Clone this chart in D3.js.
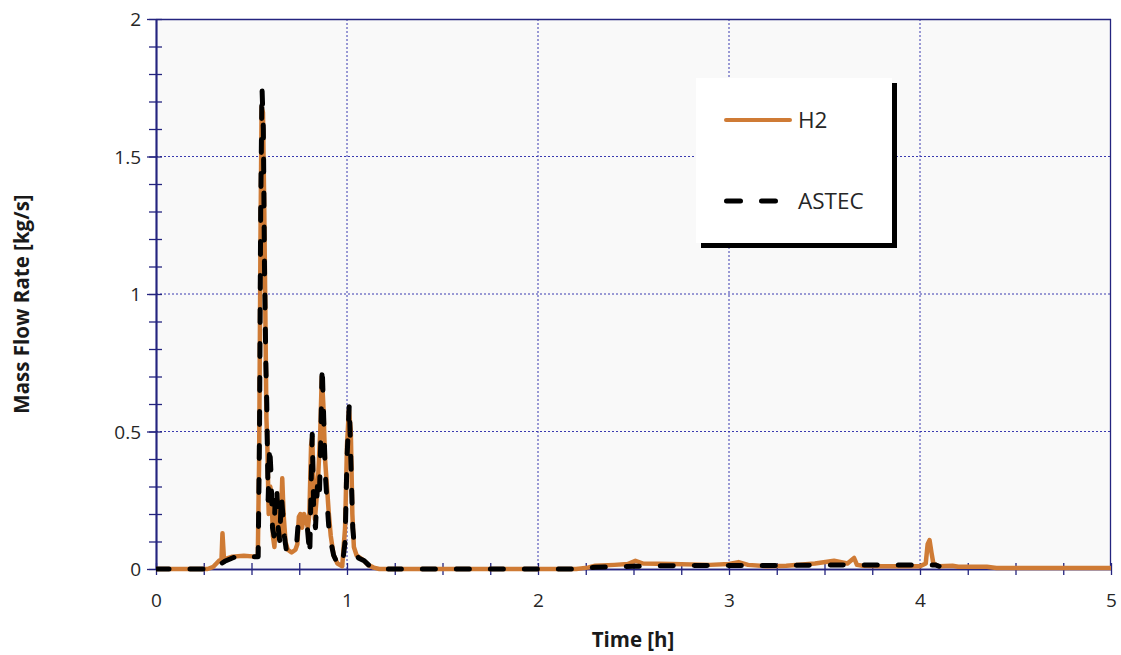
<!DOCTYPE html>
<html><head><meta charset="utf-8">
<script src="https://cdn.jsdelivr.net/npm/d3@7/dist/d3.min.js"></script>
<style>
html,body{margin:0;padding:0;background:#fff;}
svg{display:block;}
text{font-family:"Open Sans",Lato,sans-serif;}
</style></head>
<body>
<svg id="c" width="1121" height="655"></svg>
<script>
// ---- data (time [h], mass flow rate [kg/s]) ----
const h2Time = [0,0.27,0.30,0.33,0.343,0.348,0.356,0.40,0.46,0.52,0.533,0.54,0.547,0.553,0.56,0.567,0.573,0.578,0.583,0.59,0.598,0.605,0.612,0.62,0.628,0.636,0.645,0.652,0.661,0.668,0.678,0.69,0.71,0.73,0.74,0.748,0.756,0.765,0.775,0.785,0.795,0.803,0.812,0.818,0.825,0.832,0.84,0.85,0.86,0.868,0.876,0.885,0.895,0.905,0.915,0.93,0.95,0.975,0.99,1.0,1.01,1.02,1.028,1.036,1.05,1.07,1.09,1.11,1.14,1.17,2.2,2.26,2.3,2.4,2.47,2.51,2.55,2.7,2.9,3.0,3.05,3.1,3.2,3.3,3.45,3.55,3.62,3.655,3.67,3.7,3.8,4.0,4.03,4.04,4.05,4.06,4.07,4.1,4.17,4.2,4.35,4.4,5.0];
const h2Flow = [0,0,0.008,0.03,0.035,0.13,0.035,0.045,0.048,0.045,0.05,0.4,1.2,1.68,1.66,1.3,0.9,0.55,0.45,0.2,0.3,0.27,0.12,0.08,0.2,0.25,0.15,0.12,0.33,0.2,0.1,0.07,0.06,0.07,0.09,0.19,0.2,0.15,0.2,0.18,0.15,0.2,0.45,0.48,0.3,0.18,0.25,0.35,0.5,0.7,0.6,0.4,0.3,0.2,0.12,0.05,0.02,0.01,0.15,0.45,0.58,0.5,0.2,0.08,0.05,0.04,0.03,0.015,0.005,0,0,0.005,0.012,0.015,0.018,0.03,0.02,0.018,0.015,0.018,0.025,0.015,0.01,0.012,0.02,0.03,0.02,0.04,0.015,0.012,0.01,0.01,0.02,0.09,0.105,0.06,0.02,0.01,0.012,0.008,0.008,0.004,0.004];

const astecTime = [0,0.3,0.32,0.36,0.40,0.44,0.5,0.535,0.542,0.548,0.555,0.562,0.568,0.575,0.58,0.587,0.595,0.602,0.61,0.618,0.625,0.632,0.64,0.648,0.656,0.664,0.672,0.682,0.70,0.72,0.735,0.745,0.77,0.79,0.805,0.812,0.818,0.826,0.835,0.845,0.855,0.862,0.87,0.878,0.886,0.895,0.905,0.915,0.93,0.95,0.975,0.99,1.0,1.012,1.02,1.03,1.04,1.06,1.09,1.12,1.15,2.2,2.3,2.5,2.7,3.0,3.3,3.6,3.9,4.08,4.1];
const astecFlow = [0,0,0.01,0.028,0.04,0.05,0.045,0.045,0.5,1.3,1.75,1.6,1.1,0.75,0.6,0.25,0.45,0.35,0.15,0.12,0.28,0.3,0.15,0.1,0.27,0.2,0.12,0.07,0.06,0.07,0.08,0.17,0.17,0.17,0.05,0.3,0.49,0.2,0.15,0.3,0.25,0.45,0.74,0.55,0.35,0.25,0.15,0.1,0.05,0.02,0.01,0.1,0.4,0.6,0.4,0.15,0.07,0.04,0.03,0.01,0,0,0.006,0.01,0.012,0.013,0.013,0.015,0.015,0.015,0.01];

const xTickLabels = [0,1,2,3,4,5];
const yTickLabels = [0,0.5,1,1.5,2];
const seriesNames = ["H2","ASTEC"];

// ---- layout ----
const svg = d3.select("#c");
const L = 156, R = 1111, T = 19, B = 569;
const x = d3.scaleLinear().domain([0,5]).range([L,R]);
const y = d3.scaleLinear().domain([0,2]).range([B,T]);
const navy = "#24247f";
const orange = "#cf7b35";
const FONT = "'Open Sans',Lato,sans-serif";

svg.append("rect").attr("x",L).attr("y",T).attr("width",R-L).attr("height",B-T).attr("fill","#f9f9f9");

// gridlines
const g = svg.append("g");
g.selectAll("line.vg").data(xTickLabels.filter(d=>d>0&&d<5)).enter().append("line")
  .attr("x1",d=>x(d)).attr("x2",d=>x(d)).attr("y1",T).attr("y2",B)
  .attr("stroke","#3a3ab0").attr("stroke-width",1).attr("stroke-dasharray","2,2");
g.selectAll("line.hg").data(yTickLabels.filter(d=>d>0&&d<2)).enter().append("line")
  .attr("x1",L).attr("x2",R).attr("y1",d=>y(d)).attr("y2",d=>y(d))
  .attr("stroke","#3a3ab0").attr("stroke-width",1).attr("stroke-dasharray","2,2");

// border top/right
svg.append("line").attr("x1",L).attr("x2",R).attr("y1",T+0.5).attr("y2",T+0.5).attr("stroke",navy).attr("stroke-width",1.3);
svg.append("line").attr("x1",R-0.5).attr("x2",R-0.5).attr("y1",T).attr("y2",B).attr("stroke",navy).attr("stroke-width",1.3);

// axes
const xMinor = d3.range(0,5.001,0.25);
const yMinor = d3.range(0,2.001,0.1).map(d=>+d.toFixed(2));
function styleAxis(sel){
  sel.selectAll("path").attr("stroke",navy).attr("stroke-width",1.5);
  sel.selectAll("line").attr("stroke",navy).attr("stroke-width",1.3);
  sel.selectAll("text").attr("fill","#262626").style("font-size","19px").style("font-family",FONT);
}
const xa1 = svg.append("g").attr("transform",`translate(0,${B})`)
  .call(d3.axisBottom(x).tickValues(xMinor).tickSize(6).tickSizeOuter(0).tickFormat(""));
const xa2 = svg.append("g").attr("transform",`translate(0,${B})`)
  .call(d3.axisBottom(x).tickValues(xMinor).tickSize(-6).tickSizeOuter(0).tickFormat(""));
const xa3 = svg.append("g").attr("transform",`translate(0,${B})`)
  .call(d3.axisBottom(x).tickValues(xTickLabels).tickSize(0).tickPadding(25).tickFormat(d3.format("d")));
xa3.select("path").remove();
[xa1,xa2,xa3].forEach(styleAxis);

const ya1 = svg.append("g").attr("transform",`translate(${L},0)`)
  .call(d3.axisLeft(y).tickValues(yMinor).tickSize(7).tickSizeOuter(0).tickFormat(""));
const ya2 = svg.append("g").attr("transform",`translate(${L},0)`)
  .call(d3.axisLeft(y).tickValues(yMinor).tickSize(-6).tickSizeOuter(0).tickFormat(""));
const ya3 = svg.append("g").attr("transform",`translate(${L},0)`)
  .call(d3.axisLeft(y).tickValues(yTickLabels).tickSize(9).tickPadding(6).tickSizeOuter(0).tickFormat(d=>String(d)));
[ya1,ya2,ya3].forEach(styleAxis);
ya3.selectAll("text").attr("dy","0.35em");

// axis titles
svg.append("text").attr("x",633).attr("y",647).attr("text-anchor","middle")
  .style("font-weight","bold").style("font-size","20.5px").style("font-family",FONT).attr("fill","#1a1a1a").text("Time [h]");
svg.append("text").attr("transform",`translate(29,304) rotate(-90)`).attr("text-anchor","middle")
  .style("font-weight","bold").style("font-size","20.5px").style("font-family",FONT).attr("fill","#1a1a1a").text("Mass Flow Rate [kg/s]");

// series
svg.append("clipPath").attr("id","clip").append("rect").attr("x",L).attr("y",T-5).attr("width",R-L).attr("height",B-T+10);
const line = d3.line().x(d=>x(d[0])).y(d=>y(d[1]));
const h2 = h2Time.map((t,i)=>[t,h2Flow[i]]);
const astec = astecTime.map((t,i)=>[t,astecFlow[i]]);
const plot = svg.append("g").attr("clip-path","url(#clip)");
plot.append("path").datum(h2).attr("d",line).attr("fill","none").attr("stroke",orange)
  .attr("stroke-width",4.5).attr("stroke-linejoin","round").attr("stroke-linecap","round");
plot.append("path").datum(astec).attr("d",line).attr("fill","none").attr("stroke","#000")
  .attr("stroke-width",5).attr("stroke-linejoin","round").attr("stroke-linecap","round").attr("stroke-dasharray","13,21");

// legend
const lg = svg.append("g");
lg.append("rect").attr("x",701).attr("y",83).attr("width",196).attr("height",165).attr("fill","#000");
lg.append("rect").attr("x",696).attr("y",78).attr("width",196).attr("height",165).attr("fill","#fff");
lg.append("line").attr("x1",726).attr("x2",790).attr("y1",120).attr("y2",120)
  .attr("stroke",orange).attr("stroke-width",4).attr("stroke-linecap","round");
lg.append("line").attr("x1",726.5).attr("x2",776).attr("y1",201).attr("y2",201)
  .attr("stroke","#000").attr("stroke-width",5).attr("stroke-linecap","round").attr("stroke-dasharray","14,21");
lg.append("text").attr("x",798).attr("y",120).attr("dy","0.35em").style("font-size","22.5px").style("font-family",FONT).attr("fill","#262626").text(seriesNames[0]);
lg.append("text").attr("x",798).attr("y",201).attr("dy","0.35em").style("font-size","22.5px").style("font-family",FONT).attr("fill","#262626").text(seriesNames[1]);
</script>
</body></html>
